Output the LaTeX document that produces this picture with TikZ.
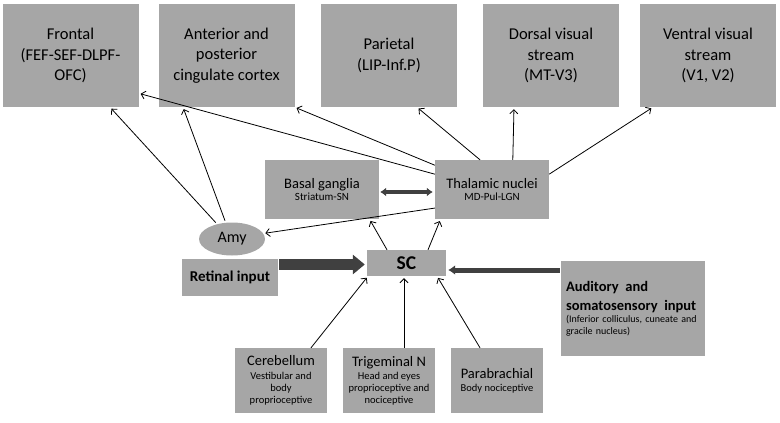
\documentclass[tikz,border=0pt]{standalone}
\usepackage{fontspec}
\setmainfont{Carlito}
\usetikzlibrary{arrows.meta,shapes.geometric}
\definecolor{boxgray}{RGB}{166,166,166}
\definecolor{darkgray}{RGB}{64,64,64}

\begin{document}
\begin{tikzpicture}[x=1pt,y=-1pt,
  region/.style={fill=boxgray,inner sep=0pt,minimum width=136pt,minimum height=103pt,
    align=center,font=\fontsize{16.5}{20.5}\selectfont},
  relay/.style={fill=boxgray,inner sep=0pt,minimum width=114pt,minimum height=59pt,
    align=center,font=\fontsize{11}{12}\selectfont},
  source/.style={fill=boxgray,inner sep=0pt,minimum width=92pt,minimum height=65pt,
    align=center,font=\fontsize{10.5}{12}\selectfont},
  link/.style={->,>={Straight Barb[length=4pt,width=8pt]},line width=0.8pt,shorten >=2pt},
  thick link/.style={draw=darkgray,line width=#1,shorten >=2pt,shorten <=1pt}]
  \useasboundingbox (0,0) rectangle (780,423);

  % cortex
  \node[region] (frontal) at (70.5,55.5) {Frontal\\(FEF-SEF-DLPF-\\OFC)};
  \node[region] (cingulate) at (226.5,55.5) {Anterior and\\posterior\\cingulate cortex};
  \node[region] (parietal) at (389,55.5) {Parietal\\(LIP-Inf.P)};
  \node[region] (dorsal) at (551,55.5) {Dorsal visual\\stream\\(MT-V3)};
  \node[region] (ventral) at (708,55.5) {Ventral visual\\stream\\(V1, V2)};

  % subcortical
  \node[relay] (basal) at (322,189.5) {{\fontsize{14.5}{17}\selectfont Basal ganglia}\\Striatum-SN};
  \node[relay] (thalamic) at (492,189.5) {{\fontsize{14.5}{17}\selectfont Thalamic nuclei}\\MD-Pul-LGN};
  \node[ellipse,fill=boxgray,inner sep=0pt,minimum width=66pt,minimum height=33pt,
    font=\fontsize{16}{19}\selectfont] (amy) at (232,239) {Amy};
  \node[fill=boxgray,inner sep=0pt,minimum width=96pt,minimum height=37pt,
    font=\bfseries\fontsize{15}{17}\selectfont] (retinal) at (230,277.5) {Retinal input};
  \node[fill=boxgray,inner sep=0pt,minimum width=79pt,minimum height=26pt,
    font=\bfseries\fontsize{19.5}{21}\selectfont] (sc) at (406.5,263) {SC};
  \node[fill=boxgray,inner xsep=5pt,inner ysep=0pt,text width=134pt,minimum height=95pt,
    align=left] (auditory) at (633,308.5)
    {{\bfseries\fontsize{14.5}{19}\selectfont Auditory\ \ and\\somatosensory\ \ input\par}
     \fontsize{10}{12}\selectfont (Inferior colliculus, cuneate and\\gracile nucleus)};

  % brainstem inputs
  \node[source] (cerebellum) at (281,380.5) {{\fontsize{14.5}{17}\selectfont Cerebellum}\\[2pt]Vestibular and\\body\\proprioceptive};
  \node[source] (trigeminal) at (389,380.5) {{\fontsize{14.5}{17}\selectfont Trigeminal N}\\[1pt]Head and eyes\\proprioceptive and\\nociceptive};
  \node[source] (parabrachial) at (497,380.5) {{\fontsize{14.5}{17}\selectfont Parabrachial}\\[1pt]Body nociceptive};

  % thalamic projections
  \draw[link] (thalamic.165) -- (frontal.331);
  \draw[link] (thalamic.157) -- (cingulate.south east);
  \draw[link] (thalamic.112) -- ([xshift=28pt]parietal.south);
  \draw[link] (thalamic.55) -- ([xshift=-37pt]dorsal.south);
  \draw[link] (thalamic.15) -- ([xshift=-55pt]ventral.south);
  \draw[link] (thalamic.198) -- (amy.10);
  \draw[link,shorten <=2pt] (amy.135) -- ([xshift=39.5pt]frontal.south);
  \draw[link,shorten <=2pt] (amy.111) -- ([xshift=-43.5pt]cingulate.south);

  % SC outputs and inputs
  \draw[link] ([xshift=-19.5pt]sc.north) -- (basal.328);
  \draw[link] ([xshift=21.5pt]sc.north) -- (thalamic.210);
  \draw[link] ([xshift=30pt]cerebellum.north) -- ([xshift=-38.5pt]sc.south);
  \draw[link] ([xshift=15pt]trigeminal.north) -- ([xshift=-2.5pt]sc.south);
  \draw[link] ([xshift=-17pt]parabrachial.north) -- ([xshift=30.5pt]sc.south);
  \draw[thick link=11pt,-{Triangle[length=12pt,width=19pt]}]
    ([yshift=13pt]retinal.east) -- ([yshift=-1.5pt]sc.west);
  \draw[thick link=5pt,-{Latex[length=7pt,width=10pt]}]
    ([yshift=38.5pt]auditory.west) -- ([yshift=-7pt]sc.east);
  \draw[thick link=4pt,{Latex[length=6pt,width=9pt]}-{Latex[length=6pt,width=9pt]}]
    ([yshift=-2.5pt]basal.east) -- ([yshift=-2.5pt]thalamic.west);
\end{tikzpicture}
\end{document}
